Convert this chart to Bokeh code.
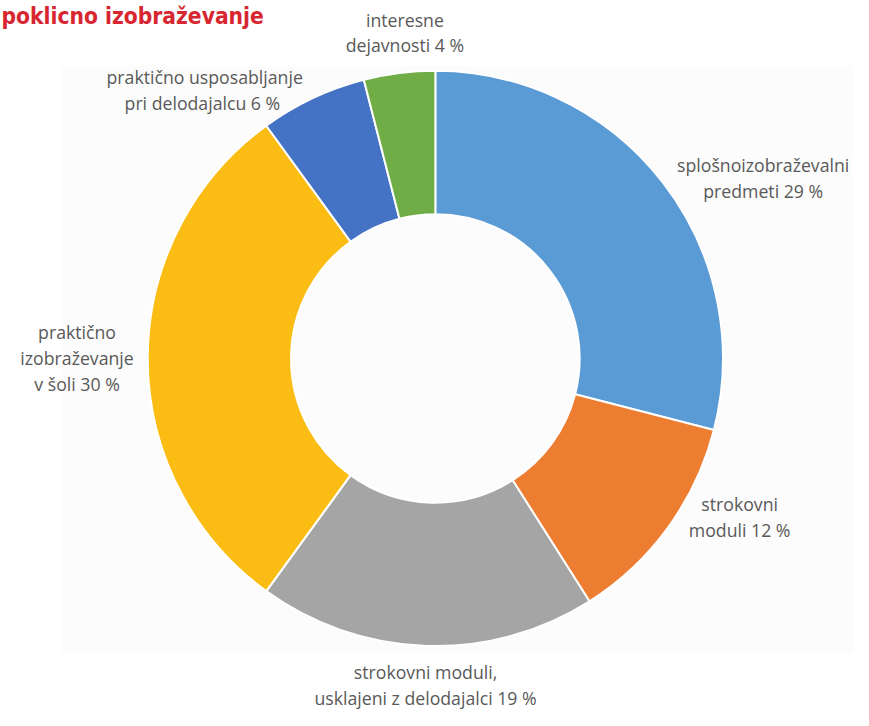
import math
from bokeh.plotting import figure
from bokeh.models import ColumnDataSource, Range1d
from bokeh.core.properties import value
from bokeh.embed import file_html
from bokeh.resources import INLINE

# ---- data ----
categories = ["splošnoizobraževalni predmeti", "strokovni moduli",
              "strokovni moduli, usklajeni z delodajalci",
              "praktično izobraževanje v šoli",
              "praktično usposabljanje pri delodajalcu", "interesne dejavnosti"]
shares = [29, 12, 19, 30, 6, 4]
colors = ["#5b9bd5", "#ed7d31", "#a5a5a5", "#fbbc14", "#4472c4", "#70ad47"]
label_lines = [
    ["splošnoizobraževalni", "predmeti 29 %"],
    ["strokovni", "moduli 12 %"],
    ["strokovni moduli,", "usklajeni z delodajalci 19 %"],
    ["praktično", "izobraževanje", "v šoli 30 %"],
    ["praktično usposabljanje", "pri delodajalcu 6  %"],
    ["interesne", "dejavnosti 4 %"],
]
title_text = "poklicno izobraževanje"

# ---- layout (reference pixel coordinates, 869 x 726) ----
W, H = 853, 710
REF_W, REF_H = 869, 726
k = W / REF_W  # pixel scale of the figure relative to the reference
def sy(y):
    return REF_H - y
def fs(px):
    return "%.1fpx" % (px * k)

cx, cy = 443, 366
r_out, r_in = 293, 147
label_pos = [(777, 168), (753, 515), (433, 687), (78, 339), (208, 78), (412, 19.5)]
line_gap = 26.5

p = figure(width=W, height=H, output_backend="svg", toolbar_location=None,
           x_range=Range1d(0, REF_W), y_range=Range1d(0, REF_H),
           min_border=0, background_fill_color="white", border_fill_color="white")
p.axis.visible = False
p.grid.visible = False
p.outline_line_color = None

# faint panel background
p.quad(left=[62], right=[869], bottom=[sy(668)], top=[sy(67)],
       fill_color="#fcfcfc", line_color=None)

total = float(sum(shares))
starts, ends = [], []
a = math.pi / 2
for s in shares:
    starts.append(a)
    a -= s / total * 2 * math.pi
    ends.append(a)

src = ColumnDataSource(dict(start=starts, end=ends, color=colors, cat=categories))
p.annular_wedge(x=cx, y=sy(cy), inner_radius=r_in, outer_radius=r_out,
                start_angle="start", end_angle="end", direction="clock",
                fill_color="color", line_color="white", line_width=2, source=src)

xs, ys, ts = [], [], []
for lines, (lx, ly) in zip(label_lines, label_pos):
    for i, t in enumerate(lines):
        xs.append(lx)
        ys.append(sy(ly + i * line_gap))
        ts.append(t)
p.text(x=xs, y=ys, text=ts, text_align="center", text_baseline="middle",
       text_font=value("Open Sans"), text_font_size=fs(18), text_color="#595959")

p.text(x=[1], y=[sy(16)], text=[title_text], text_align="left",
       text_baseline="alphabetic", text_font=value("DejaVu Sans Condensed"),
       text_font_style="bold", text_font_size=fs(23), text_color="#d7262f")

open("out.html", "w").write(file_html(p, INLINE))
